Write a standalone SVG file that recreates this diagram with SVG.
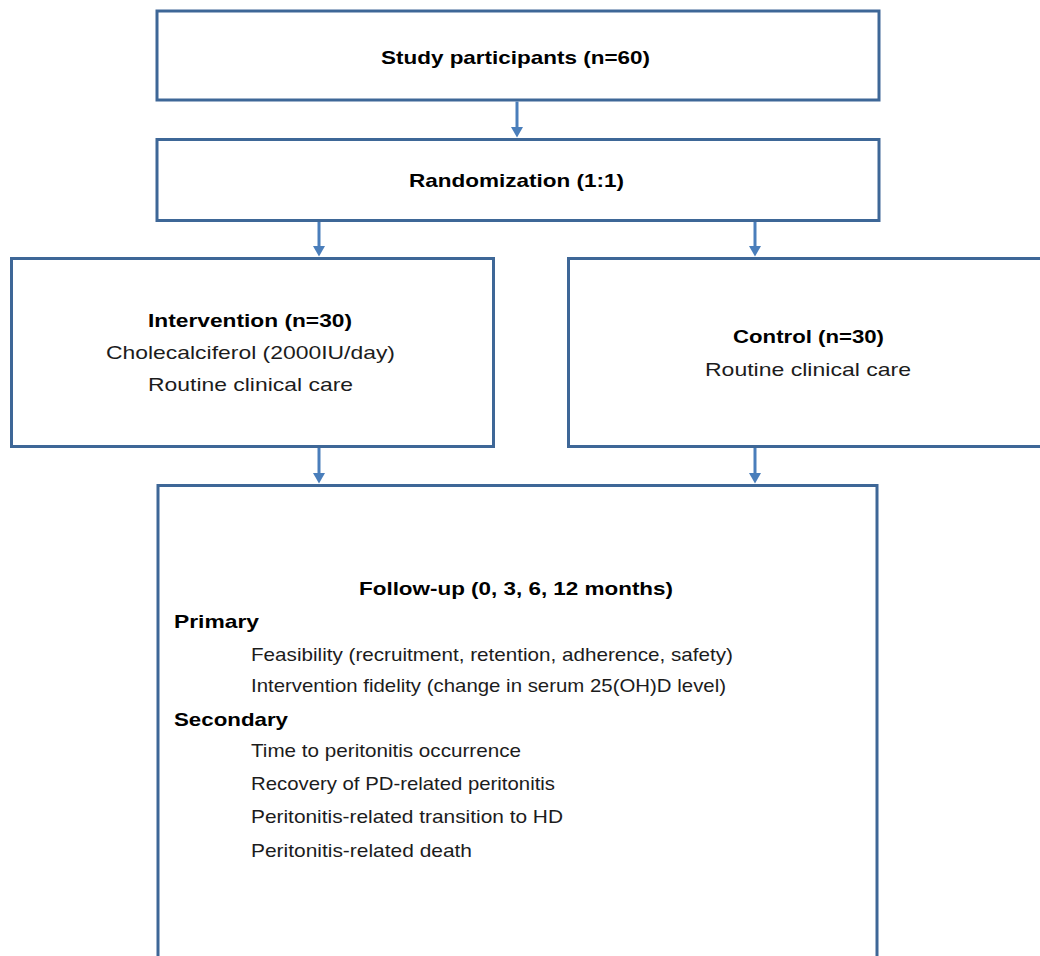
<svg xmlns="http://www.w3.org/2000/svg" width="1040" height="956" viewBox="0 0 1040 956">
<style>
.box{fill:#fff;stroke:#3E6797;stroke-width:3}
.t{font-family:"Liberation Sans",Arial,sans-serif;font-size:19px;fill:#1c1c1c}
.b{font-weight:bold;fill:#000}
.c{text-anchor:middle}
.con line{stroke:#4A7EBB;stroke-width:3}
.con polygon{fill:#4A7EBB}
</style>
<rect width="1040" height="956" fill="#fff"/>
<g id="participants">
<rect class="box" x="157" y="11" width="722" height="89"/>
<text class="t b" x="381" y="64" textLength="269" lengthAdjust="spacingAndGlyphs">Study participants (n=60)</text>
</g>
<g id="randomization">
<rect class="box" x="157" y="139.5" width="722" height="81"/>
<text class="t b" x="409" y="187" textLength="215" lengthAdjust="spacingAndGlyphs">Randomization (1:1)</text>
</g>
<g id="intervention">
<rect class="box" x="11.5" y="258.5" width="482" height="188"/>
<text class="t b" x="148" y="327" textLength="204" lengthAdjust="spacingAndGlyphs">Intervention (n=30)</text>
<text class="t" x="106" y="359" textLength="289" lengthAdjust="spacingAndGlyphs">Cholecalciferol (2000IU/day)</text>
<text class="t" x="148" y="391" textLength="205" lengthAdjust="spacingAndGlyphs">Routine clinical care</text>
</g>
<g id="control">
<rect class="box" x="568.5" y="258.5" width="500" height="188"/>
<text class="t b" x="733" y="343" textLength="151" lengthAdjust="spacingAndGlyphs">Control (n=30)</text>
<text class="t" x="705" y="376" textLength="206" lengthAdjust="spacingAndGlyphs">Routine clinical care</text>
</g>
<g id="followup">
<rect class="box" x="158" y="485.5" width="719" height="500"/>
<text class="t b" x="359" y="595" textLength="314" lengthAdjust="spacingAndGlyphs">Follow-up (0, 3, 6, 12 months)</text>
<text class="t b" x="174" y="628" textLength="85" lengthAdjust="spacingAndGlyphs">Primary</text>
<text class="t" x="251" y="661" textLength="482" lengthAdjust="spacingAndGlyphs">Feasibility (recruitment, retention, adherence, safety)</text>
<text class="t" x="251" y="692" textLength="475" lengthAdjust="spacingAndGlyphs">Intervention fidelity (change in serum 25(OH)D level)</text>
<text class="t b" x="174" y="726" textLength="114" lengthAdjust="spacingAndGlyphs">Secondary</text>
<text class="t" x="251" y="757" textLength="270" lengthAdjust="spacingAndGlyphs">Time to peritonitis occurrence</text>
<text class="t" x="251" y="790" textLength="304" lengthAdjust="spacingAndGlyphs">Recovery of PD-related peritonitis</text>
<text class="t" x="251" y="823" textLength="312" lengthAdjust="spacingAndGlyphs">Peritonitis-related transition to HD</text>
<text class="t" x="251" y="857" textLength="221" lengthAdjust="spacingAndGlyphs">Peritonitis-related death</text>
</g>
<g id="connectors" class="con">
<line x1="517" y1="101.5" x2="517" y2="128"/>
<polygon points="511,127 523,127 517,137.5"/>
<line x1="319" y1="222" x2="319" y2="247"/>
<polygon points="313,246 325,246 319,256.5"/>
<line x1="755" y1="222" x2="755" y2="247"/>
<polygon points="749,246 761,246 755,256.5"/>
<line x1="319" y1="448" x2="319" y2="474"/>
<polygon points="313,473 325,473 319,483.5"/>
<line x1="755" y1="448" x2="755" y2="474"/>
<polygon points="749,473 761,473 755,483.5"/>
</g>
</svg>
